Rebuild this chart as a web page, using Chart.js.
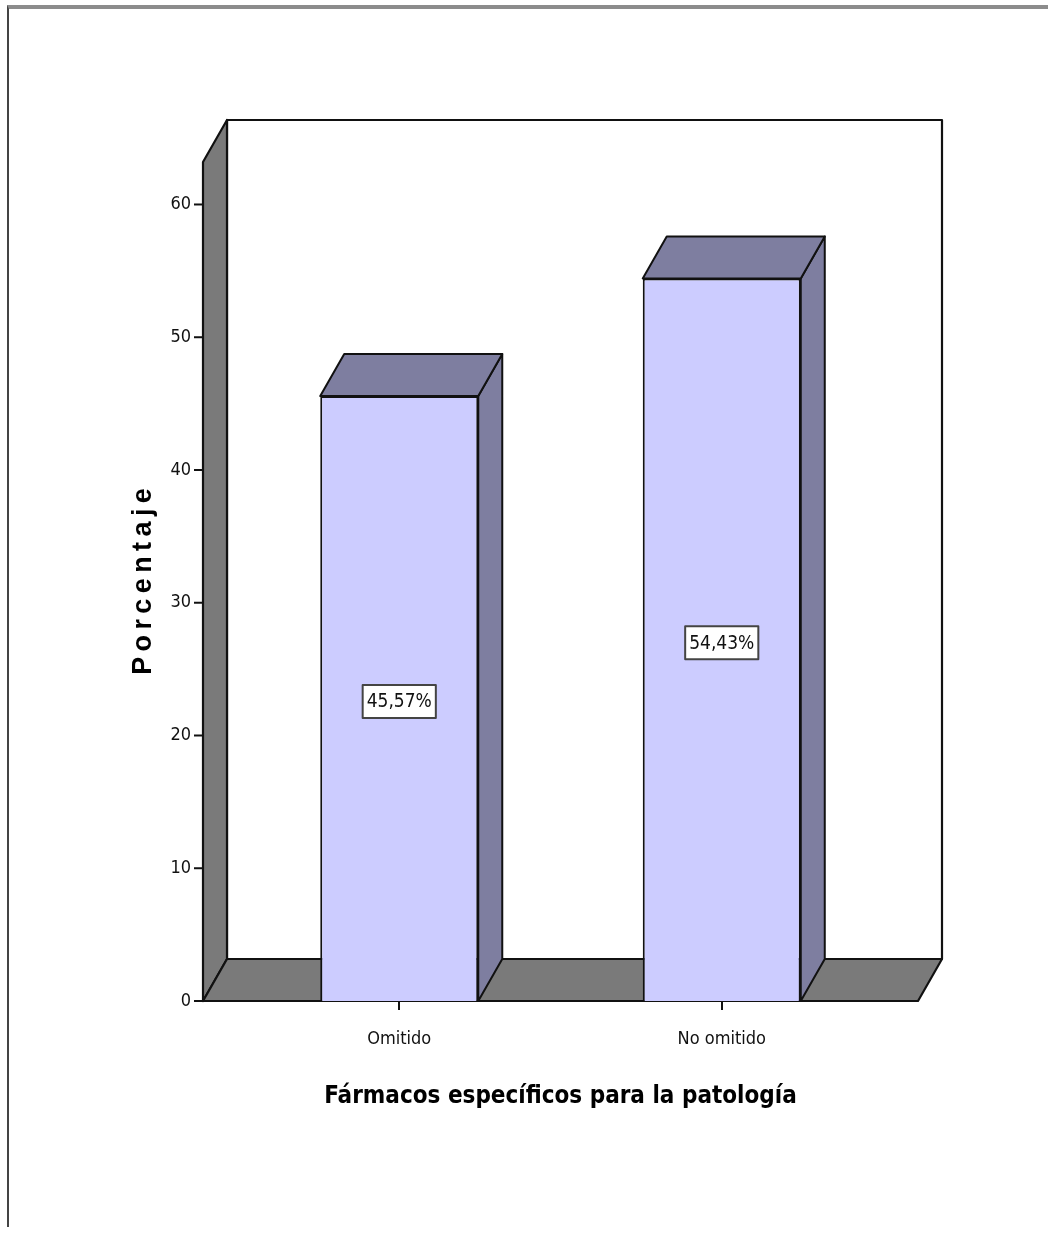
<!DOCTYPE html>
<html>
<head>
<meta charset="utf-8">
<script src="https://cdn.jsdelivr.net/npm/chart.js@4.4.1/dist/chart.umd.min.js"></script>
<style>
    html, body { margin: 0; padding: 0; background: #fff; }
    #wrap { position: relative; width: 1048px; height: 1234px; overflow: hidden; }
    #frame {
        position: absolute; left: 7px; top: 5px; width: 1100px; height: 1218px;
        border-top: 4px solid #8c8c8c; border-left: 2px solid #444;
    }
    canvas { position: absolute; left: 0; top: 0; }
</style>
</head>
<body>
<div id="wrap">
    <div id="frame"></div>
    <canvas id="chart" width="1048" height="1234"></canvas>
</div>
<script>
const CATEGORIES = ['Omitido', 'No omitido'];
const PERCENTS = [45.57, 54.43];
const VALUE_LABELS = ['45,57%', '54,43%'];
const Y_TICKS = [0, 10, 20, 30, 40, 50, 60];

const NARROW = "'Liberation Sans Narrow', 'DejaVu Sans Condensed', 'Liberation Sans', sans-serif";

// depth of the fake 3d boxes, in px
const DX = 24;
const DY = 42;
const WALL_EXTRA = 35; // floor/walls stick out past the category band

const FRONT = '#ccccff';
const SHADE = '#7e7ea0';
const WALL = '#7a7a7a';

function poly(ctx, pts, fill) {
    ctx.beginPath();
    ctx.moveTo(pts[0][0], pts[0][1]);
    for (let i = 1; i < pts.length; i++) ctx.lineTo(pts[i][0], pts[i][1]);
    ctx.closePath();
    ctx.fillStyle = fill;
    ctx.fill();
    ctx.stroke();
}

const boxes3d = {
    id: 'boxes3d',
    beforeDatasetsDraw(chart) {
        const ctx = chart.ctx;
        const a = chart.chartArea;
        const L = a.left - WALL_EXTRA, R = a.right + WALL_EXTRA;
        ctx.save();
        ctx.strokeStyle = '#111';
        ctx.lineWidth = 2.2;
        ctx.lineJoin = 'round';
        // back wall
        poly(ctx, [[L + DX, a.top - DY], [R + DX, a.top - DY], [R + DX, a.bottom - DY], [L + DX, a.bottom - DY]], '#fff');
        // left wall
        poly(ctx, [[L, a.bottom], [L, a.top], [L + DX, a.top - DY], [L + DX, a.bottom - DY]], WALL);
        // floor
        poly(ctx, [[L, a.bottom], [R, a.bottom], [R + DX, a.bottom - DY], [L + DX, a.bottom - DY]], WALL);
        ctx.restore();
    },
    afterDatasetsDraw(chart) {
        const ctx = chart.ctx;
        const a = chart.chartArea;
        const L = a.left - WALL_EXTRA;
        const meta = chart.getDatasetMeta(0);
        ctx.save();
        ctx.strokeStyle = '#111';
        ctx.lineWidth = 2;
        ctx.lineJoin = 'round';
        meta.data.forEach((bar, i) => {
            const half = bar.width / 2;
            const x0 = bar.x - half, x1 = bar.x + half;
            poly(ctx, [[x1, bar.y], [x1, bar.base], [x1 + DX, bar.base - DY], [x1 + DX, bar.y - DY]], SHADE);
            poly(ctx, [[x0, bar.y], [x1, bar.y], [x1 + DX, bar.y - DY], [x0 + DX, bar.y - DY]], SHADE);

            // value label box in the middle of the bar
            const cy = (bar.y + bar.base) / 2 + 3;
            ctx.font = '19px ' + NARROW;
            const tw = ctx.measureText(VALUE_LABELS[i]).width;
            const bw = tw + 8, bh = 33;
            ctx.fillStyle = '#fff';
            ctx.fillRect(bar.x - bw / 2, cy - bh / 2, bw, bh);
            ctx.strokeStyle = '#444';
            ctx.strokeRect(bar.x - bw / 2, cy - bh / 2, bw, bh);
            ctx.fillStyle = '#111';
            ctx.textAlign = 'center';
            ctx.textBaseline = 'middle';
            ctx.fillText(VALUE_LABELS[i], bar.x, cy + 1);
            ctx.strokeStyle = '#111';
        });

        // y tick marks sit on the front edge of the left wall
        const y = chart.scales.y;
        ctx.lineWidth = 2;
        y.ticks.forEach(t => {
            const py = y.getPixelForValue(t.value);
            ctx.beginPath();
            ctx.moveTo(L - 9, py);
            ctx.lineTo(L, py);
            ctx.stroke();
        });
        ctx.restore();
    }
};

new Chart(document.getElementById('chart'), {
    type: 'bar',
    data: {
        labels: CATEGORIES,
        datasets: [{
            data: PERCENTS,
            backgroundColor: FRONT,
            borderColor: '#111',
            borderWidth: 2,
            categoryPercentage: 1,
            barPercentage: 0.49
        }]
    },
    options: {
        responsive: false,
        animation: false,
        layout: { padding: { top: 162, right: 165, left: 0, bottom: 0 } },
        plugins: { legend: { display: false }, tooltip: { enabled: false } },
        scales: {
            x: {
                afterFit: s => { s.height = 233; },
                grid: { offset: false, drawOnChartArea: false, tickLength: 9, color: '#111', lineWidth: 2 },
                border: { display: false },
                ticks: { color: '#111', padding: 19, font: { family: NARROW, size: 18 } },
                title: {
                    display: true,
                    text: 'Fármacos específicos para la patología',
                    color: '#000',
                    font: { family: NARROW, size: 24, weight: 'bold' },
                    padding: { top: 0, bottom: 123 }
                }
            },
            y: {
                min: 0,
                max: 63.2,
                afterFit: s => { s.width = 238; },
                afterBuildTicks: s => { s.ticks = Y_TICKS.map(v => ({ value: v })); },
                grid: { display: false, drawTicks: false },
                border: { display: false },
                ticks: { color: '#111', padding: 47, font: { family: NARROW, size: 18 } },
                title: {
                    display: true,
                    text: 'P\u2009o\u2009r\u2009c\u2009e\u2009n\u2009t\u2009a\u2009j\u2009e',
                    color: '#000',
                    font: { family: "'Liberation Sans', Arial, sans-serif", size: 27, weight: 'bold' },
                    padding: { top: 127, bottom: 0 }
                }
            }
        }
    },
    plugins: [boxes3d]
});
</script>
</body>
</html>
